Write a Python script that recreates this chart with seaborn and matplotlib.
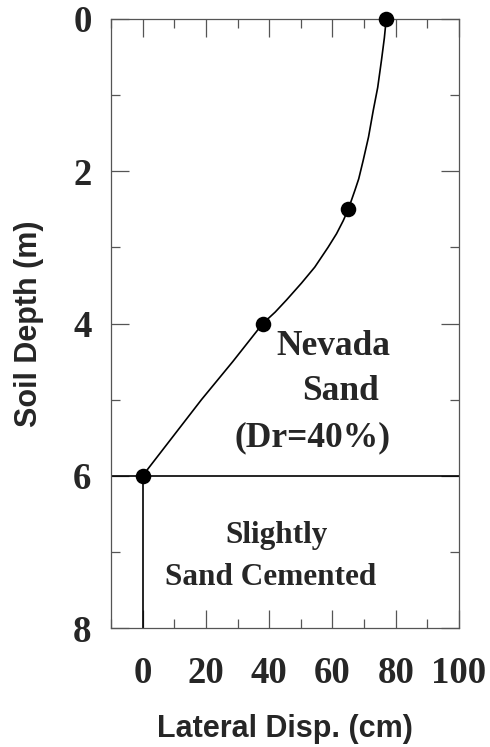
import matplotlib
matplotlib.use("Agg")
import matplotlib.pyplot as plt
import seaborn as sns
import pandas as pd
from matplotlib.ticker import MultipleLocator

# Measured points (markers)
depth_pts = [0.0, 2.5, 4.0, 6.0]
disp_pts = [77.0, 65.0, 38.0, 0.0]

# Curve (depth, displacement)
curve_depth = [0.0, 0.25, 0.54, 0.9, 1.2, 1.55, 1.86, 2.1, 2.25, 2.5, 2.65, 2.82, 3.0, 3.26, 3.47, 3.69, 3.85, 4.0, 4.5, 5.0, 5.5, 6.0]
curve_disp = [77.0, 76.4, 75.5, 74.3, 72.9, 71.4, 69.7, 68.3, 67.1, 65.0, 63.4, 61.3, 58.6, 54.4, 50.2, 45.5, 41.9, 38.0, 28.5, 18.6, 9.3, 0.0]

# Cemented layer boundary and pile below
layer_depth = 6.0
base_depth = [6.0, 8.0]
base_disp = [0.0, 0.0]

x_ticks = [0, 20, 40, 60, 80, 100]
y_ticks = [0, 2, 4, 6, 8]

sns.set_style("ticks")
plt.rcParams['font.family'] = ['Liberation Serif', 'DejaVu Serif']

fig = plt.figure(figsize=(4.9, 7.47), dpi=100)
ax = fig.add_axes([111/490, 1 - 628/747, (459-111)/490, (628-19)/747])

curve_df = pd.DataFrame({"disp": curve_disp, "depth": curve_depth})
pts_df = pd.DataFrame({"disp": disp_pts, "depth": depth_pts})
base_df = pd.DataFrame({"disp": base_disp, "depth": base_depth})

sns.lineplot(data=curve_df, x="disp", y="depth", sort=False, color="black", lw=1.2, ax=ax, estimator=None)
sns.lineplot(data=base_df, x="disp", y="depth", sort=False, color="black", lw=1.2, ax=ax, estimator=None)
ax.axhline(layer_depth, color="black", lw=1.2)
sns.scatterplot(data=pts_df, x="disp", y="depth", color="black", s=125, edgecolor="black", linewidth=0, ax=ax, zorder=5, clip_on=False)

ax.set_xlim(-10, 100)
ax.set_ylim(8, 0)
ax.set_xticks(x_ticks)
ax.set_yticks(y_ticks)
ax.xaxis.set_minor_locator(MultipleLocator(10))
ax.yaxis.set_minor_locator(MultipleLocator(1))
ax.tick_params(which="both", direction="in", top=True, right=True, color="#555555", width=0.9)
ax.tick_params(which="major", length=12.7)
ax.tick_params(which="minor", length=6.3)
ax.tick_params(axis="x", which="major", pad=20)
ax.tick_params(axis="y", which="major", pad=14)
for sp in ax.spines.values():
    sp.set_color("#555555")
    sp.set_linewidth(0.9)

for lab in ax.get_xticklabels() + ax.get_yticklabels():
    lab.set_fontsize(26.5)
    lab.set_fontweight("bold")
    lab.set_family(['Liberation Serif'])

ax.set_xlabel("Lateral Disp. (cm)", fontsize=22, fontweight="bold", family=['Liberation Sans'], labelpad=17)
ax.set_ylabel("Soil Depth (m)", fontsize=22, fontweight="bold", family=['Liberation Sans'], labelpad=21)

tkw = dict(fontsize=25.5, fontweight="bold", family=['Liberation Serif'], ha="center", va="baseline")
ax.text(60.4, 4.41, "Nevada", **tkw)
ax.text(62.6, 5.0, "Sand", **tkw)
ax.text(53.6, 5.61, "(Dr=40%)", **tkw)
skw = dict(tkw, fontsize=22.5)
ax.text(42.3, 6.88, "Slightly", **skw)
ax.text(40.3, 7.43, "Sand Cemented", **skw)

fig.savefig("out.png", dpi=100)
